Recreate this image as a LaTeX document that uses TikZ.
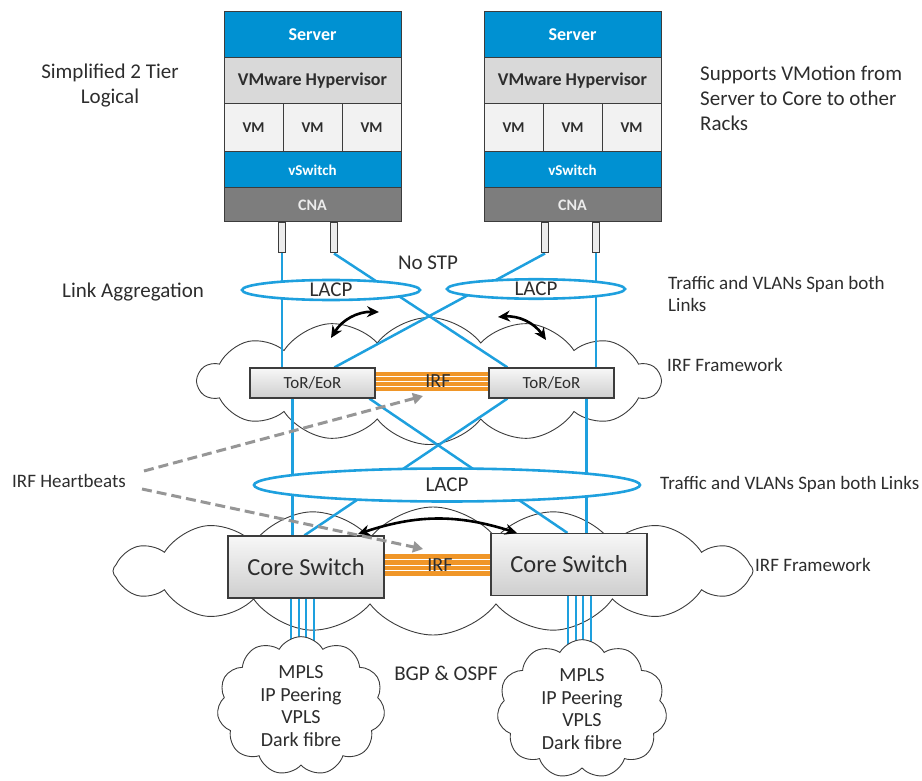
\documentclass[tikz,border=0pt]{standalone}
\usepackage{fontspec}
\setmainfont{Carlito}
\usetikzlibrary{shapes.symbols,shapes.geometric,arrows.meta,calc}

\definecolor{hpblue}{RGB}{0,145,210}
\definecolor{linkblue}{RGB}{30,160,222}
\definecolor{hypgray}{RGB}{217,217,217}
\definecolor{vmgray}{RGB}{242,242,242}
\definecolor{cnagray}{RGB}{125,125,125}
\definecolor{edgegray}{RGB}{60,60,60}
\definecolor{irforange}{RGB}{240,150,40}
\definecolor{hbgray}{RGB}{150,150,150}
\definecolor{textgray}{RGB}{45,45,45}

\pgfdeclarelayer{clouds}
\pgfdeclarelayer{links}
\pgfsetlayers{clouds,links,main}

\tikzset{
  row/.style={draw=edgegray, line width=1pt, minimum width=177, inner sep=0pt,
    font=\bfseries\fontsize{15}{17}\selectfont},
  vmcell/.style={row, fill=vmgray, text=textgray, minimum width=59, minimum height=48},
  tube/.style={draw=edgegray, fill=gray!15, line width=1pt, minimum width=7, minimum height=30, inner sep=0pt},
  switchbox/.style={draw=edgegray, line width=1.2pt, top color=gray!6, bottom color=gray!38,
    text=textgray, inner sep=0pt},
  torbox/.style={switchbox, minimum width=125, minimum height=30, font=\fontsize{17}{20}\selectfont},
  corebox/.style={switchbox, minimum width=156, minimum height=62, font=\fontsize{24.5}{28}\selectfont},
  link/.style={draw=linkblue, line width=2.5pt},
  lacp/.style={ellipse, draw=linkblue, line width=2.6pt, fill=white, inner sep=0pt,
    text=textgray, font=\fontsize{21}{24}\selectfont},
  puffy/.style={cloud, cloud ignores aspect, draw=edgegray, fill=white, line width=0.9pt,
    text=textgray, align=center},
  swing/.style={draw=black, line width=2.6pt, {Stealth[length=12pt,width=11pt]}-{Stealth[length=12pt,width=11pt]}},
  beat/.style={draw=hbgray, line width=3pt, dash pattern=on 10pt off 5pt,
    -{Triangle[length=10pt,width=11pt]}},
  lbl/.style={text=textgray, font=\fontsize{21}{25}\selectfont, inner sep=0pt},
  small/.style={text=textgray, font=\fontsize{19}{22}\selectfont, inner sep=0pt},
  irflbl/.style={text=textgray, font=\fontsize{20}{22}\selectfont, inner sep=0pt},
}

% one server: blue header, hypervisor, three VMs, vSwitch and CNA
\newcommand\serverstack[2]{%
  \node[row, fill=hpblue, text=white, minimum height=46, font=\bfseries\fontsize{18}{20}\selectfont] (#1srv) at (#2,35) {Server};
  \node[row, fill=hypgray, text=textgray, minimum height=46, font=\bfseries\fontsize{18}{20}\selectfont] (#1hyp) at (#2,81) {VMware Hypervisor};
  \node[vmcell] (#1vma) at (#2-59,128) {VM};
  \node[vmcell] (#1vmb) at (#2,128) {VM};
  \node[vmcell] (#1vmc) at (#2+59,128) {VM};
  \node[row, fill=hpblue, text=white, minimum height=36] (#1vsw) at (#2,170) {vSwitch};
  \node[row, fill=cnagray, text=gray!15, minimum height=34, font=\bfseries\fontsize{16}{18}\selectfont] (#1cna) at (#2,205) {CNA};
}

% orange IRF trunk between two switches
\newcommand\irftrunk[4]{% #1 left node, #2 right node, #3 top y, #4 bottom y
  \fill[irforange] (#1.east |- 0,#3) rectangle (#2.west |- 0,#4);
  \foreach \f in {0.25,0.5,0.75}
    \draw[white, line width=0.9pt] (#1.east |- 0,{#3+\f*(#4-#3)}) -- (#2.west |- 0,{#3+\f*(#4-#3)});
}

\begin{document}
\begin{tikzpicture}[x=1pt,y=-1pt]
\useasboundingbox (0,0) rectangle (922,781);

% ---------- IRF framework clouds ----------
\begin{pgfonlayer}{clouds}
\node[puffy, cloud puffs=14, cloud puff arc=105, minimum width=462, minimum height=127] (cloudtor) at (429,381) {};
\node[puffy, cloud puffs=16, cloud puff arc=105, minimum width=640, minimum height=128] (cloudcore) at (433,571) {};
\end{pgfonlayer}

% ---------- servers ----------
\serverstack{sa}{312.5}
\serverstack{sb}{572.5}

\node[tube] (sata) at (282,238) {};
\node[tube] (satb) at (334,238) {};
\node[tube] (sbta) at (545,238) {};
\node[tube] (sbtb) at (596,238) {};

% ---------- switches ----------
\node[torbox] (tor1) at (312.5,383) {ToR/EoR};
\node[torbox] (tor2) at (551.5,383) {ToR/EoR};
\node[corebox] (core1) at (306,567) {Core Switch};
\node[corebox] (core2) at (569,564.5) {Core Switch};

\begin{pgfonlayer}{links}
% server to ToR
\draw[link] (sata.south) -- (sata.south |- tor1.north);
\draw[link] (satb.south) -- ($(tor2.north west)+(19,0)$);
\draw[link] (sbta.south) -- ($(tor1.north west)+(85,0)$);
\draw[link] (sbtb.south) -- (sbtb.south |- tor2.north);
% ToR to core
\coordinate (t1p) at ($(tor1.south west)+(43,0)$);
\coordinate (t1q) at ($(tor1.south west)+(120,0)$);
\coordinate (t2p) at ($(tor2.south west)+(19,0)$);
\coordinate (t2q) at ($(tor2.south west)+(98,0)$);
\draw[link] (t1p) -- (t1p |- core1.north);
\draw[link] (t1q) -- ($(core2.north west)+(77,0)$);
\draw[link] (t2p) -- ($(core1.north west)+(77,0)$);
\draw[link] (t2q) -- (t2q |- core2.north);
% core uplinks
\foreach \dx in {0,7.5,15,22.5}{
  \draw[draw=linkblue, line width=2pt] ($(core1.south west)+(64+\dx,0)$) -- ++(0,48);
  \draw[draw=linkblue, line width=2pt] ($(core2.south west)+(78+\dx,0)$) -- ++(0,52);
}
\end{pgfonlayer}

% ---------- LACP groups ----------
\node[lacp, minimum width=178, minimum height=20] (lacpa) at (331,290) {LACP};
\node[lacp, minimum width=178, minimum height=19] (lacpb) at (536,289) {LACP};
\node[lacp, minimum width=386, minimum height=33] (lacpc) at (447,485) {LACP};

% ---------- IRF trunks ----------
\irftrunk{tor1}{tor2}{372}{391}
\node[irflbl] (irfa) at (438,381) {IRF};
\irftrunk{core1}{core2}{554}{576}
\node[irflbl] (irfb) at (440,565) {IRF};

% ---------- WAN clouds ----------
\node[puffy, cloud puffs=11, cloud puff arc=120, minimum width=168, minimum height=135,
  font=\fontsize{20}{22.5}\selectfont] (wana) at (301,706) {MPLS\\IP Peering\\VPLS\\Dark fibre};
\node[puffy, cloud puffs=11, cloud puff arc=120, minimum width=170, minimum height=133,
  font=\fontsize{20}{22.5}\selectfont] (wanb) at (582,709) {MPLS\\IP Peering\\VPLS\\Dark fibre};

% ---------- LACP swing arrows ----------
\coordinate (swa1) at (379,312);
\coordinate (swa2) at (331,338);
\coordinate (swb1) at (498,317);
\coordinate (swb2) at (546,340);
\coordinate (swc1) at (358,534);
\coordinate (swc2) at (517,533);
\draw[swing] (swa1) to[bend right=30] (swa2);
\draw[swing] (swb1) to[bend left=30] (swb2);
\draw[swing] (swc1) to[bend left=18] (swc2);

% ---------- labels ----------
\node[lbl, align=center] (tier) at (110,86) {Simplified 2 Tier\\Logical};
\node[lbl, align=left, anchor=west] (vmotion) at (700,98) {Supports VMotion from\\Server to Core to other\\Racks};
\node[lbl, anchor=west] (linkagg) at (62,292) {Link Aggregation};
\node[lbl] (nostp) at (428,263) {No STP};
\node[small, align=left, anchor=west] (spanA) at (668,294) {Traffic and VLANs Span both\\Links};
\node[small, anchor=west] (irffa) at (667,365) {IRF Framework};
\node[small, anchor=west] (hb) at (12,481) {IRF Heartbeats};
\node[small, anchor=west] (spanB) at (660,484) {Traffic and VLANs Span both Links};
\node[small, anchor=west] (irffb) at (755,565) {IRF Framework};
\node[lbl] (bgp) at (446,673) {BGP \& OSPF};

% ---------- heartbeat arrows ----------
\coordinate (hbs1) at (144,471);
\coordinate (hbs2) at (142,489);
\coordinate (hbe1) at (423,396);
\coordinate (hbe2) at (423,549);
\draw[beat] (hbs1) -- (hbe1);
\draw[beat] (hbs2) -- (hbe2);

\end{tikzpicture}
\end{document}
